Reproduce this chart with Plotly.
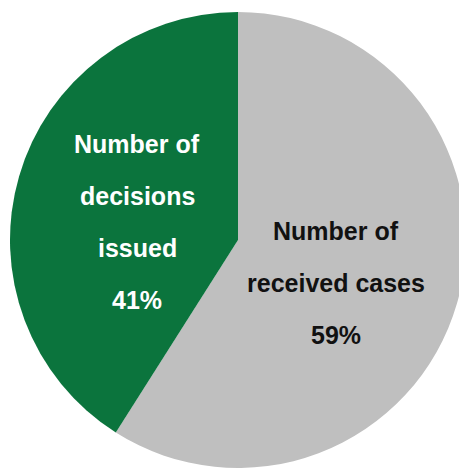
import plotly.graph_objects as go

# data
categories = ["Number of received cases", "Number of decisions issued"]
values = [59, 41]
label_lines = [["Number of", "received cases"], ["Number of", "decisions", "issued"]]
colors = ["#BFBFBF", "#0B743D"]
text_colors = ["#111111", "#FFFFFF"]

W, H = 467, 471
OFF = 8  # default page margin of the html body
FW, FH = W - OFF, H - OFF


def px_x(x):
    return (x - OFF) / FW


def px_y(y):
    return 1 - (y - OFF) / FH


fig = go.Figure()
fig.add_trace(go.Pie(
    labels=categories,
    values=values,
    sort=False,
    direction="clockwise",
    rotation=0,
    textinfo="none",
    hoverinfo="label+percent",
    marker=dict(colors=colors, line=dict(width=0)),
    domain=dict(x=[px_x(10), px_x(466)], y=[px_y(468), px_y(12)]),
    showlegend=False,
))

# label anchors (px from top-left of window): centre x, first line y
label_pos = [(336, 231), (137, 144)]
line_gap = 52

total = sum(values)
for i, lines in enumerate(label_lines):
    pct = f"{round(values[i] / total * 100)}%"
    cx, cy = label_pos[i]
    for j, txt in enumerate(lines + [pct]):
        fig.add_annotation(
            x=px_x(cx), y=px_y(cy + j * line_gap),
            xref="paper", yref="paper",
            text=f"<b>{txt}</b>",
            showarrow=False,
            xanchor="center", yanchor="middle",
            font=dict(family="Liberation Sans", size=25, color=text_colors[i]),
        )

fig.update_layout(
    width=FW, height=FH,
    margin=dict(l=0, r=0, t=0, b=0),
    paper_bgcolor="white",
    plot_bgcolor="white",
)

fig.write_html("out.html")
